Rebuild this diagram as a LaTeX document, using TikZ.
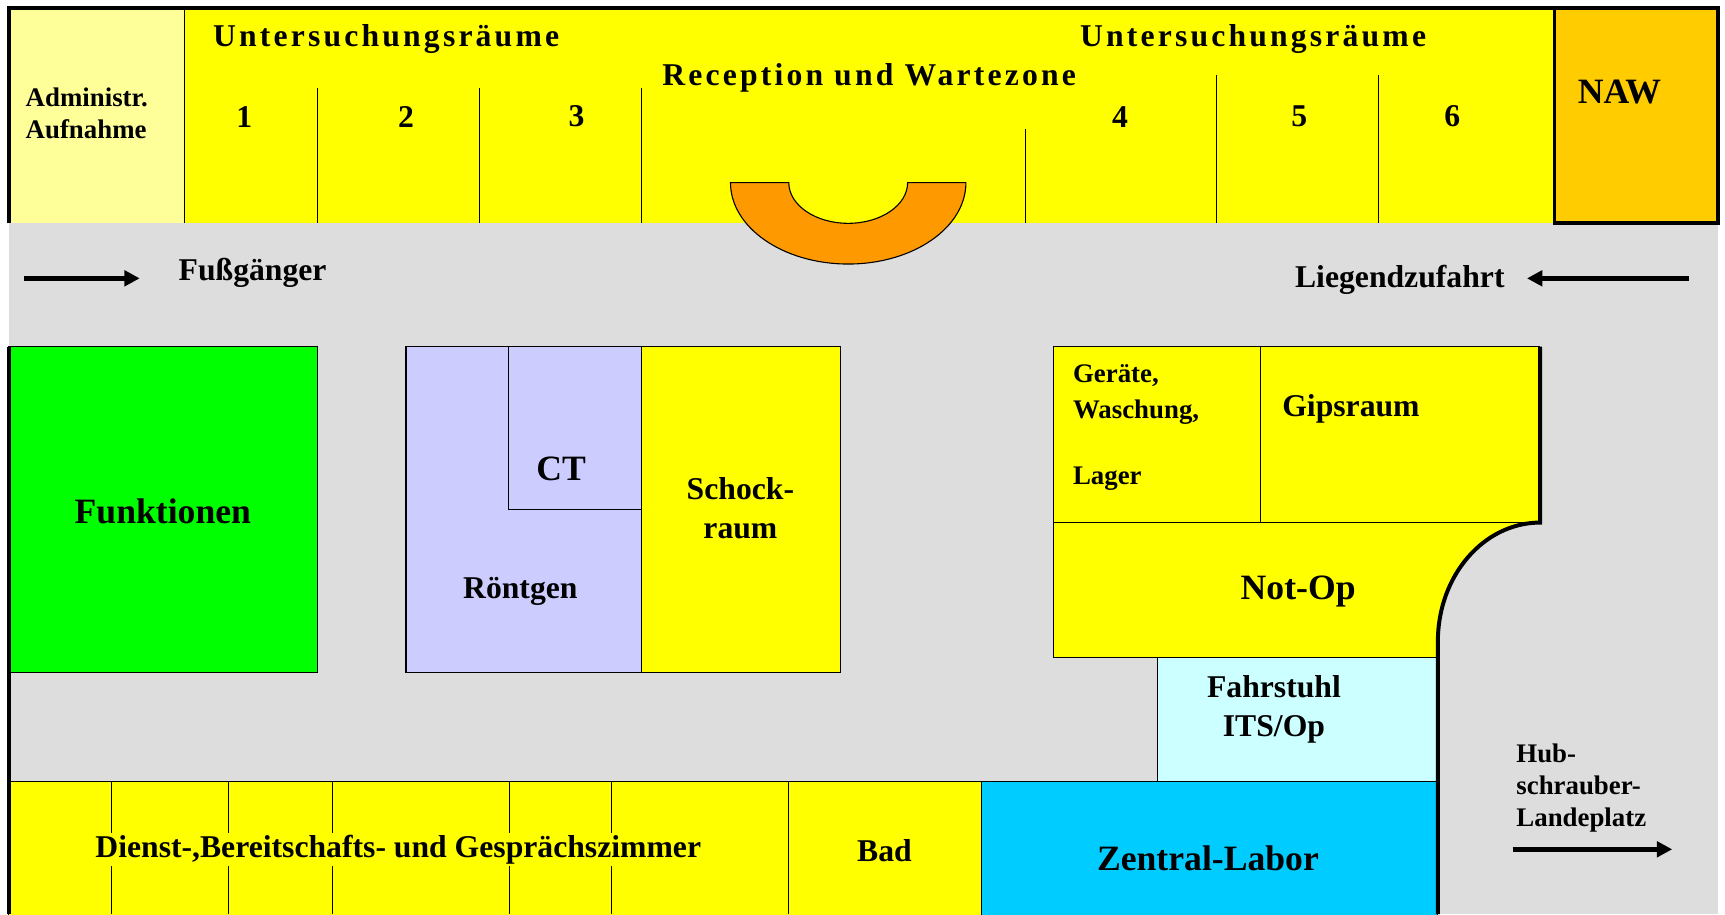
\documentclass[tikz,border=0pt]{standalone}
\usepackage{fontspec}
\setmainfont{Liberation Serif}
\usetikzlibrary{arrows.meta}

\definecolor{corridor}{HTML}{DDDDDD}
\definecolor{roomyellow}{HTML}{FFFF00}
\definecolor{adminyellow}{HTML}{FFFF99}
\definecolor{nawgold}{HTML}{FFCC00}
\definecolor{counter}{HTML}{FF9900}
\definecolor{funkgreen}{HTML}{00FF00}
\definecolor{xraylav}{HTML}{CCCCFF}
\definecolor{liftcyan}{HTML}{CCFFFF}
\definecolor{labcyan}{HTML}{00CCFF}

\tikzset{
    room/.style={draw=black, line width=0.5pt},
    wall/.style={draw=black, line width=1.8pt},
    way/.style={line width=2.2pt, -{Triangle[length=7pt,width=7pt]}},
    lbl/.style={font=\bfseries\fontsize{14.4}{17.5}\selectfont, align=center, inner sep=1pt},
    smalltxt/.style={font=\bfseries\fontsize{12.2}{14.5}\selectfont},
    bigtxt/.style={font=\bfseries\fontsize{16.2}{19}\selectfont},
    spaced/.style={font=\bfseries\fontsize{14.4}{17}\selectfont\addfontfeature{LetterSpace=10}}
}

\begin{document}
\begin{tikzpicture}[x=0.5pt, y=-0.5pt]
    \useasboundingbox (0,0) rectangle (1568,831);

    % corridor
    \fill[corridor] (8,203) rectangle (1562,831);

    % upper row
    \fill[adminyellow] (8,7) rectangle (168,203);
    \fill[roomyellow] (168,7) rectangle (1413,203);
    \filldraw[room, fill=counter] (664,166) -- (717,166)
        arc[start angle=180, end angle=0, x radius=54, y radius=37]
        -- (878,166)
        arc[start angle=0, end angle=180, x radius=107, y radius=74] -- cycle;
    \draw[room] (168,7) -- (168,203);
    \foreach \xa/\ya in {289/80, 436/80, 583/80, 932/117, 1106/68, 1253/68}
        \draw[room] (\xa,\ya) -- (\xa,203);
    \filldraw[wall, fill=nawgold] (1413,7) rectangle (1562,203);
    \draw[wall] (8,203) -- (8,7) -- (1413,7);

    % middle blocks
    \filldraw[room, fill=funkgreen] (8,315) rectangle (289,611);
    \filldraw[room, fill=xraylav] (369,315) rectangle (583,611);
    \draw[room] (462,315) rectangle (583,463);
    \filldraw[room, fill=roomyellow] (583,315) rectangle (764,611);

    \fill[roomyellow] (958,315) -- (1400,315) -- (1400,475)
        arc[start angle=270, end angle=180, x radius=93, y radius=108]
        -- (1307,598) -- (958,598) -- cycle;
    \draw[room] (1400,315) -- (958,315) -- (958,598) -- (1307,598);
    \draw[room] (958,475) -- (1400,475);
    \draw[room] (1146,315) -- (1146,475);
    \filldraw[room, fill=liftcyan] (1052,598) rectangle (1307,710);

    % lower row
    \filldraw[room, fill=roomyellow] (8,710) rectangle (892,840);
    \foreach \xa in {101, 208, 302, 463, 556, 717}
        \draw[room] (\xa,710) -- (\xa,831);
    \filldraw[room, fill=labcyan] (892,710) rectangle (1307,840);

    % outer walls
    \draw[wall] (8,315) -- (8,831);
    \draw[wall] (1400,315) -- (1400,475)
        arc[start angle=270, end angle=180, x radius=93, y radius=108]
        -- (1307,831);

    % labels upper row
    \node[spaced] (unters_l) at (351,35) {Untersuchungsräume};
    \node[spaced] (unters_r) at (1139,35) {Untersuchungsräume};
    \node[spaced] (reception) at (790,71) {Reception und Wartezone};
    \foreach \xa/\num in {222/1, 369/2, 524/3, 1018/4, 1181/5, 1320/6}
        \node[lbl] (room\num) at (\xa,106) {\num};
    \node[lbl, bigtxt] (naw) at (1472,84) {NAW};
    \node[lbl, smalltxt, align=left, anchor=west] (admin) at (21,103) {Administr.\\Aufnahme};

    % corridor
    \coordinate (walk_a) at (22,253);
    \coordinate (walk_b) at (127,253);
    \draw[way] (walk_a) -- (walk_b);
    \node[lbl, anchor=west] (walk) at (160,248) {Fußgänger};
    \coordinate (drive_a) at (1535,253);
    \coordinate (drive_b) at (1388,253);
    \draw[way] (drive_a) -- (drive_b);
    \node[lbl, anchor=east] (drive) at (1370,254) {Liegendzufahrt};

    % labels middle
    \node[lbl, bigtxt] (funk) at (148,465) {Funktionen};
    \node[lbl, bigtxt] (ct) at (510,426) {CT};
    \node[lbl] (xray) at (473,538) {Röntgen};
    \node[lbl] (shock) at (673,462) {Schock-\\raum};
    \node[lbl, font=\bfseries\fontsize{12.2}{16.5}\selectfont, align=left, anchor=north west]
        (store) at (973,329) {Geräte,\\Waschung,\\[13.5pt]Lager};
    \node[lbl] (gips) at (1228,372) {Gipsraum};
    \node[lbl, bigtxt] (notop) at (1180,538) {Not-Op};
    \node[lbl] (lift) at (1158,645) {Fahrstuhl\\ITS/Op};

    % labels lower row
    \node[lbl, fill=roomyellow] (duty) at (362,772) {Dienst-,Bereitschafts- und Gesprächszimmer};
    \node[lbl] (bath) at (804,773) {Bad};
    \node[lbl, bigtxt] (lab) at (1098,780) {Zentral-Labor};
    \node[lbl, smalltxt, align=left, anchor=west] (heli) at (1376,716) {Hub-\\schrauber-\\Landeplatz};
    \coordinate (heli_a) at (1375,772);
    \coordinate (heli_b) at (1520,772);
    \draw[way] (heli_a) -- (heli_b);
\end{tikzpicture}
\end{document}
